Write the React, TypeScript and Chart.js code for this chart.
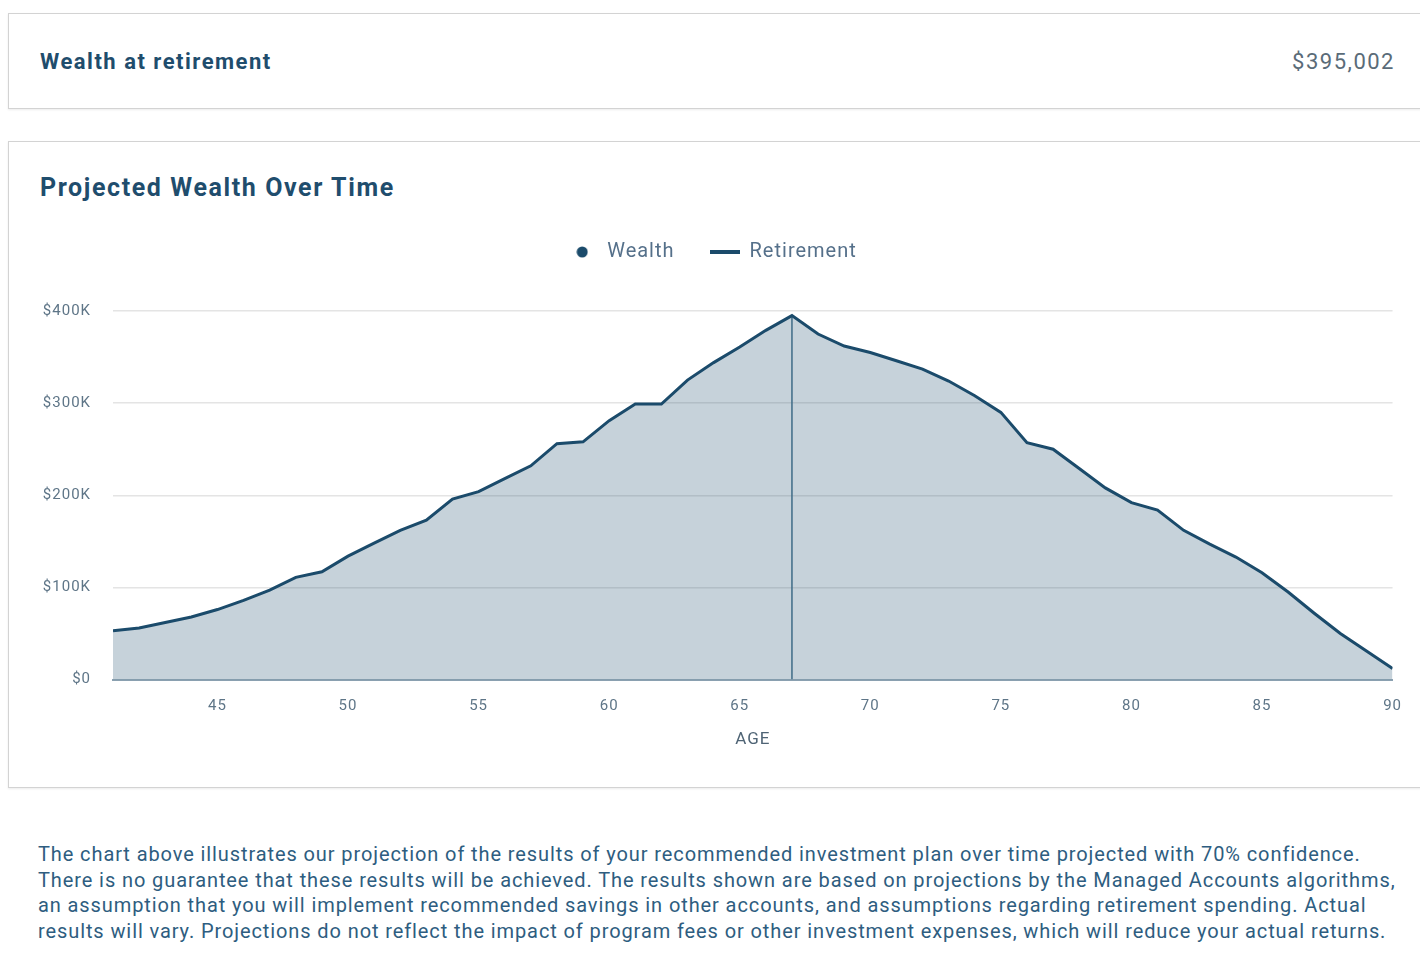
import React, { useEffect, useRef } from "react";
import { Chart, registerables } from "chart.js";

Chart.register(...registerables);

const ages = [41,42,43,44,45,46,47,48,49,50,51,52,53,54,55,56,57,58,59,60,61,62,63,64,65,66,67,68,69,70,71,72,73,74,75,76,77,78,79,80,81,82,83,84,85,86,87,88,89,90];
const wealthK = [53,56,62,68,76,86,97,111,117,134,148,162,173,196,204,218,232,256,258,281,299,299,325,344,361,379,395,375,362,355,346,337,324,308,290,257,250,229,208,192,184,162,147,133,116,95,72,50,31,12];
const retirementAge = 67;
const yTicks = [0, 100, 200, 300, 400];
const xTicks = [45, 50, 55, 60, 65, 70, 75, 80, 85, 90];
const footerLines = [
  "The chart above illustrates our projection of the results of your recommended investment plan over time projected with 70% confidence.",
  "There is no guarantee that these results will be achieved. The results shown are based on projections by the Managed Accounts algorithms,",
  "an assumption that you will implement recommended savings in other accounts, and assumptions regarding retirement spending. Actual",
  "results will vary. Projections do not reflect the impact of program fees or other investment expenses, which will reduce your actual returns.",
];

const NAVY = "#1b4b6b";

function ChartBox() {
  const ref = useRef<HTMLCanvasElement | null>(null);
  useEffect(() => {
    if (!ref.current) return;
    Chart.defaults.font.family = "Roboto";
    const dot = document.createElement("canvas");
    dot.width = 12; dot.height = 12;
    const dctx = dot.getContext("2d")!;
    dctx.fillStyle = NAVY;
    dctx.beginPath(); dctx.arc(6, 6, 5.5, 0, Math.PI * 2); dctx.fill();
    const dash = document.createElement("canvas");
    dash.width = 30; dash.height = 4;
    const lctx = dash.getContext("2d")!;
    lctx.fillStyle = NAVY;
    lctx.fillRect(0, 0, 30, 4);

    const retIdx = ages.indexOf(retirementAge);
    const setSpacing = (chart: any) => {
      try { (chart.ctx as any).letterSpacing = "1px"; } catch (e) {}
    };
    const helpers = {
      id: "helpers",
      beforeInit(chart: any) {
        setSpacing(chart);
        const orig = chart.legend.fit;
        chart.legend.fit = function () {
          orig.bind(chart.legend)();
          this.height += 39;
        };
      },
      beforeUpdate: setSpacing,
      beforeLayout: setSpacing,
      beforeDraw: setSpacing,
    };

    const chart = new Chart(ref.current, {
      type: "line",
      data: {
        datasets: [
          {
            label: "Wealth",
            data: ages.map((a, i) => ({ x: a, y: wealthK[i] })),
            borderColor: NAVY,
            borderWidth: 3,
            backgroundColor: "rgba(27,75,107,0.25)",
            fill: "origin",
            pointRadius: 0,
            tension: 0,
            pointStyle: dot as any,
          },
          {
            label: "Retirement",
            data: [
              { x: retirementAge, y: 0 },
              { x: retirementAge, y: wealthK[retIdx] },
            ],
            borderColor: "#4a7690",
            borderWidth: 1.5,
            fill: false,
            pointRadius: 0,
            pointStyle: dash as any,
          },
        ],
      },
      options: {
        animation: false,
        responsive: false,
        layout: { padding: { left: 0, right: 8, top: 0, bottom: 0 } },
        plugins: {
          tooltip: { enabled: false },
          legend: {
            display: true,
            position: "top",
            labels: {
              usePointStyle: true,
              pointStyleWidth: 30,
              padding: 35,
              color: "#55708a",
              font: { size: 20 },
            },
          },
        },
        scales: {
          x: {
            type: "linear",
            min: ages[0],
            max: ages[ages.length - 1],
            afterBuildTicks: (s: any) => {
              s.ticks = xTicks.map((v) => ({ value: v }));
            },
            ticks: { color: "#5e7587", font: { size: 15 }, padding: 10, maxRotation: 0 },
            grid: { display: false },
            border: { display: true, color: "#8aa0b0", width: 2 },
            title: { display: true, text: "AGE", color: "#4f6475", font: { size: 17 }, padding: { top: 4, bottom: 4 } },
          },
          y: {
            min: 0,
            max: 400,
            afterBuildTicks: (s: any) => {
              s.ticks = yTicks.map((v) => ({ value: v }));
            },
            afterFit: (s: any) => {
              s.width = 93;
            },
            ticks: {
              color: "#5e7587",
              font: { size: 15 },
              padding: 22,
              callback: (v: any) => (v === 0 ? "$0" : `$${v}K`),
            },
            grid: { color: "#e4e4e4", lineWidth: 1.5, drawTicks: false },
            border: { display: false },
          },
        },
      },
      plugins: [helpers],
    });
    return () => chart.destroy();
  }, []);
  return <canvas ref={ref} width={1392} height={547} style={{ position: "absolute", left: 20, top: 207, width: 1392, height: 547 }} />;
}

export default function App() {
  const card: React.CSSProperties = {
    position: "absolute",
    left: 8,
    width: 1440,
    border: "1px solid #d3d3d3",
    boxShadow: "0 1px 2px rgba(0,0,0,0.08)",
    background: "#fff",
  };
  return (
    <div style={{ position: "fixed", left: 0, top: 0, width: 1420, height: 966, background: "#fff", overflow: "hidden", fontFamily: "Roboto" }}>
      <div style={{ ...card, top: 13, height: 94 }} />
      <div style={{ position: "absolute", left: 40, top: 49, fontSize: 22, lineHeight: "26px", fontWeight: 700, color: "#1f4d6d", letterSpacing: 1.5, whiteSpace: "nowrap" }}>Wealth at retirement</div>
      <div style={{ position: "absolute", right: 25, top: 49, fontSize: 22, lineHeight: "26px", color: "#5a6b78", letterSpacing: 1.5, whiteSpace: "nowrap" }}>$395,002</div>
      <div style={{ ...card, top: 141, height: 645 }} />
      <div style={{ position: "absolute", left: 40, top: 173, fontSize: 25, lineHeight: "30px", fontWeight: 700, color: "#1f4d6d", letterSpacing: 1.6, whiteSpace: "nowrap" }}>Projected Wealth Over Time</div>
      <ChartBox />
      <div style={{ position: "absolute", left: 38, top: 842, fontSize: 20, lineHeight: "25.7px", color: "#2e5d80", letterSpacing: 0.9, whiteSpace: "nowrap" }}>
        {footerLines.map((l, i) => (
          <div key={i}>{l}</div>
        ))}
      </div>
    </div>
  );
}
